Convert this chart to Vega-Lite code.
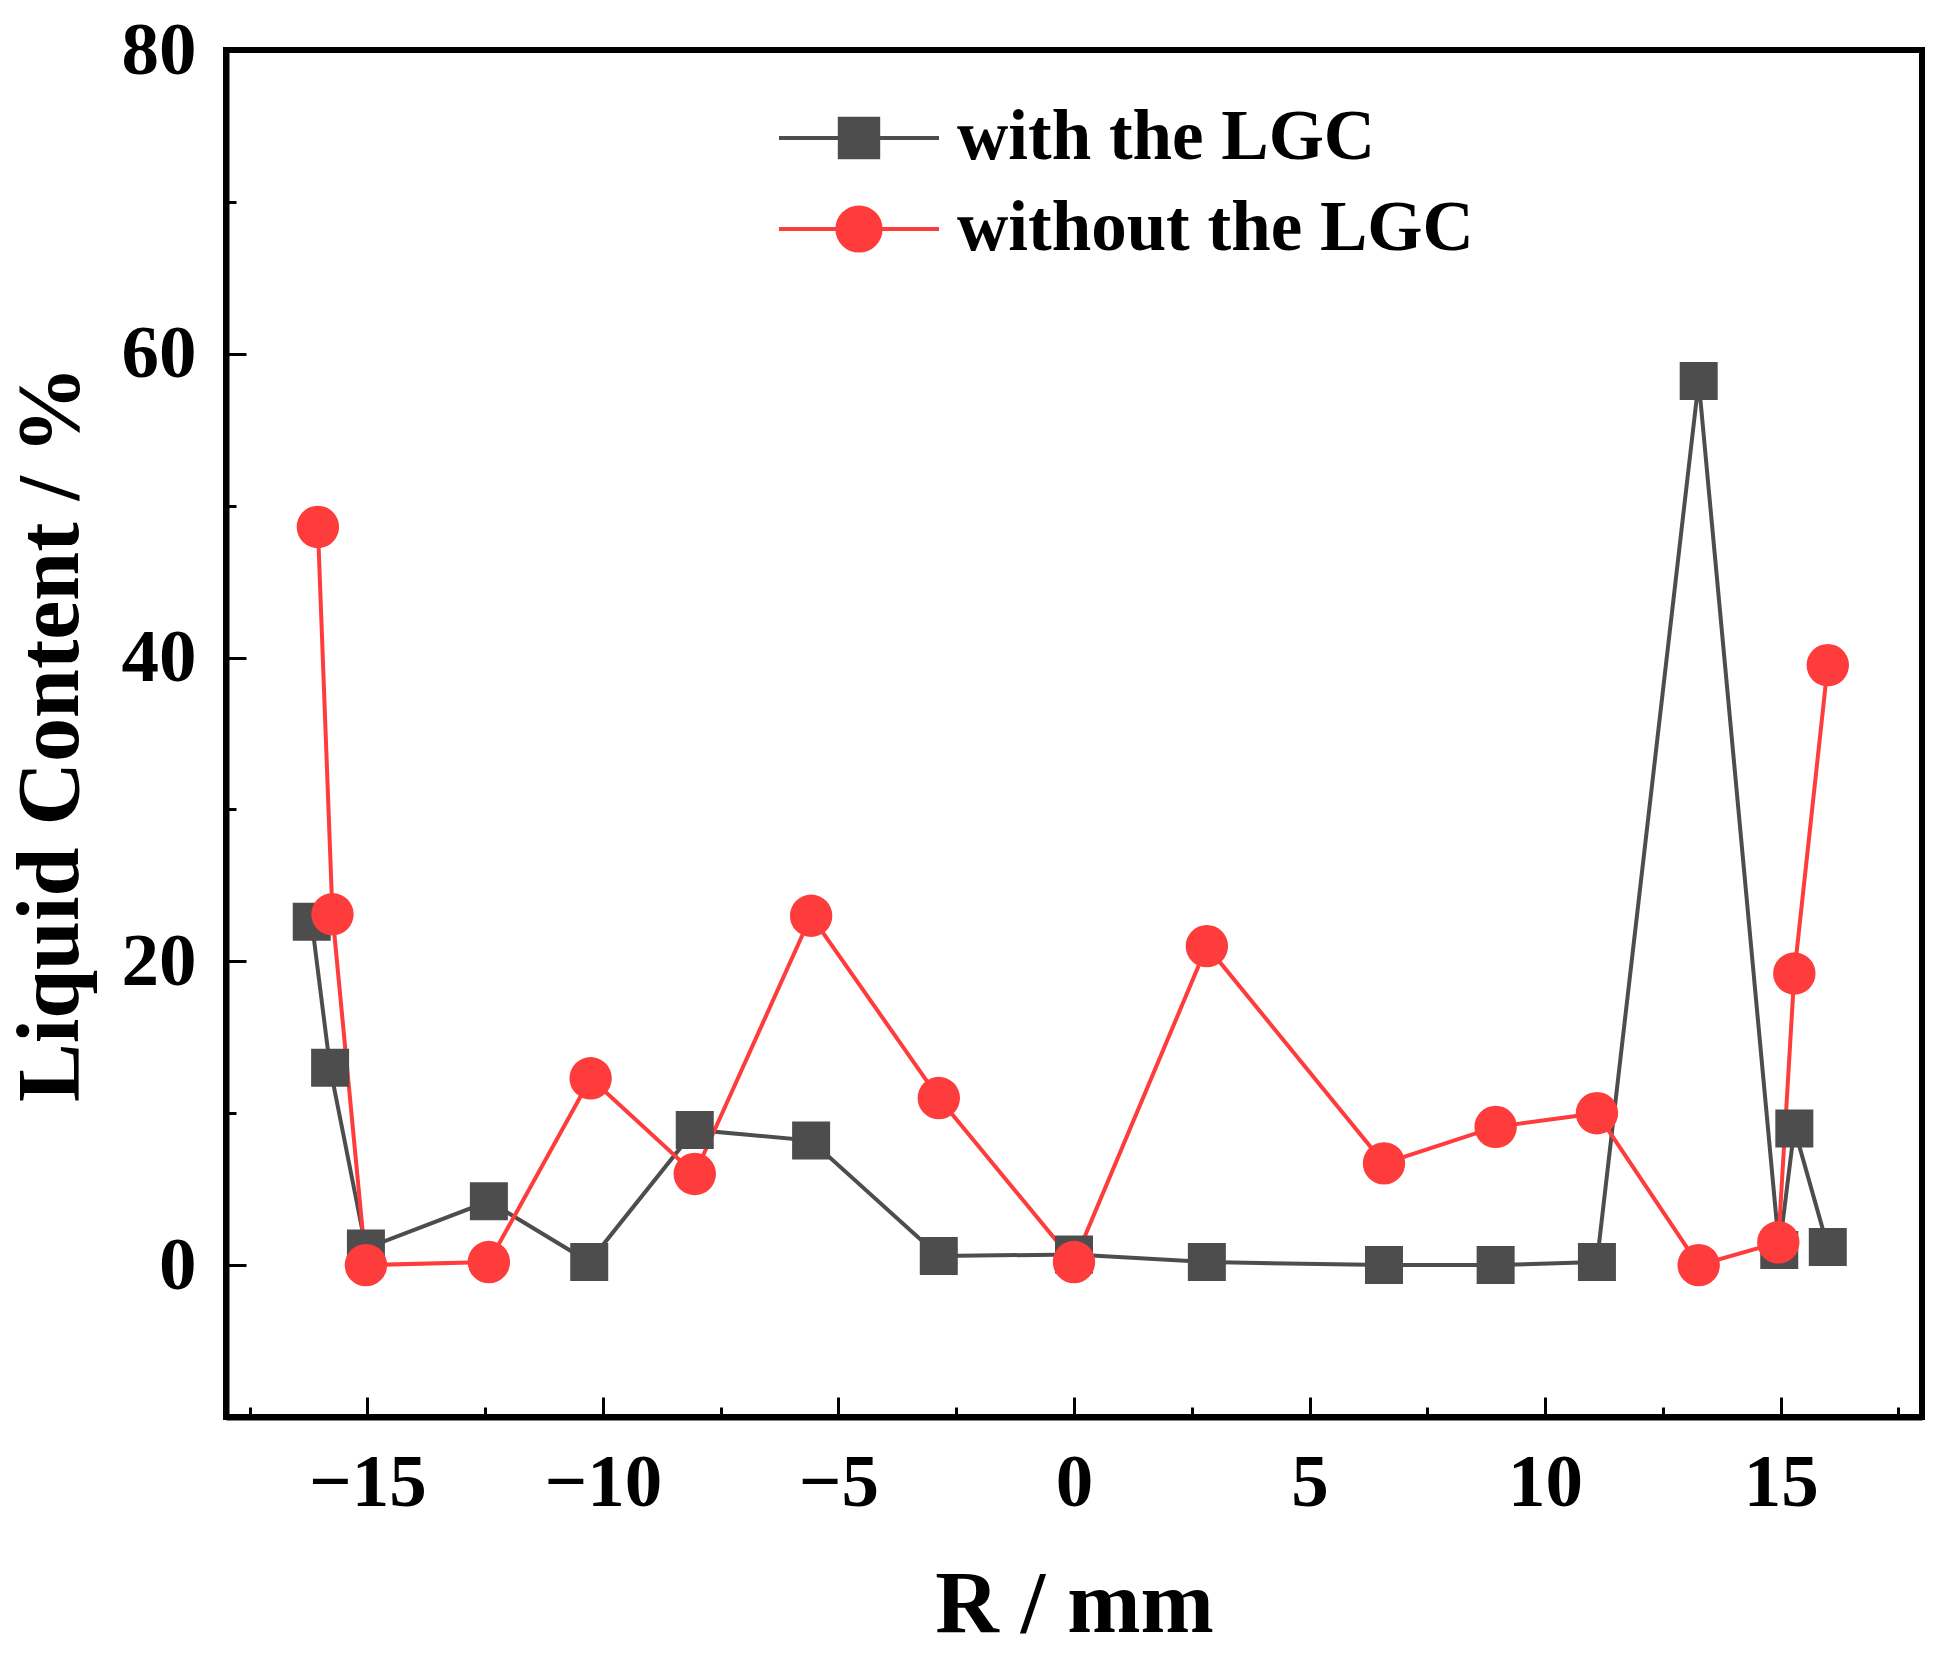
{
  "$schema": "https://vega.github.io/schema/vega-lite/v6.json",
  "width": 1696,
  "height": 1367,
  "autosize": {"type": "none"},
  "padding": {"left": 226, "top": 50, "right": 20, "bottom": 238},
  "background": "white",
  "config": {
    "view": {"stroke": "black", "strokeWidth": 6},
    "font": "Liberation Serif",
    "axis": {
      "grid": false,
      "domainColor": "black",
      "domainWidth": 6,
      "tickColor": "black",
      "tickWidth": 3,
      "labelFont": "Liberation Serif",
      "labelFontWeight": "bold",
      "labelFontSize": 75,
      "labelColor": "black",
      "titleFont": "Liberation Serif",
      "titleFontWeight": "bold",
      "titleFontSize": 88,
      "titleColor": "black"
    }
  },
  "data": {
    "values": [
      {"r": -16.18, "lc": 22.6, "series": "with the LGC"},
      {"r": -15.79, "lc": 13.0, "series": "with the LGC"},
      {"r": -15.03, "lc": 1.1, "series": "with the LGC"},
      {"r": -12.42, "lc": 4.2, "series": "with the LGC"},
      {"r": -10.29, "lc": 0.2, "series": "with the LGC"},
      {"r": -8.05, "lc": 8.9, "series": "with the LGC"},
      {"r": -5.58, "lc": 8.2, "series": "with the LGC"},
      {"r": -2.87, "lc": 0.6, "series": "with the LGC"},
      {"r": 0.0, "lc": 0.7, "series": "with the LGC"},
      {"r": 2.82, "lc": 0.2, "series": "with the LGC"},
      {"r": 6.58, "lc": 0.0, "series": "with the LGC"},
      {"r": 8.95, "lc": 0.0, "series": "with the LGC"},
      {"r": 11.1, "lc": 0.2, "series": "with the LGC"},
      {"r": 13.26, "lc": 58.2, "series": "with the LGC"},
      {"r": 14.97, "lc": 1.0, "series": "with the LGC"},
      {"r": 15.29, "lc": 9.0, "series": "with the LGC"},
      {"r": 16.0, "lc": 1.2, "series": "with the LGC"},
      {"r": -16.05, "lc": 48.6, "series": "without the LGC"},
      {"r": -15.74, "lc": 23.1, "series": "without the LGC"},
      {"r": -15.03, "lc": 0.0, "series": "without the LGC"},
      {"r": -12.42, "lc": 0.2, "series": "without the LGC"},
      {"r": -10.26, "lc": 12.3, "series": "without the LGC"},
      {"r": -8.05, "lc": 6.0, "series": "without the LGC"},
      {"r": -5.58, "lc": 23.0, "series": "without the LGC"},
      {"r": -2.87, "lc": 11.0, "series": "without the LGC"},
      {"r": 0.0, "lc": 0.2, "series": "without the LGC"},
      {"r": 2.82, "lc": 21.0, "series": "without the LGC"},
      {"r": 6.58, "lc": 6.7, "series": "without the LGC"},
      {"r": 8.95, "lc": 9.1, "series": "without the LGC"},
      {"r": 11.1, "lc": 10.0, "series": "without the LGC"},
      {"r": 13.26, "lc": 0.0, "series": "without the LGC"},
      {"r": 14.95, "lc": 1.5, "series": "without the LGC"},
      {"r": 15.29, "lc": 19.2, "series": "without the LGC"},
      {"r": 16.0, "lc": 39.5, "series": "without the LGC"}
    ]
  },
  "resolve": {"axis": {"x": "independent", "y": "independent"}},
  "layer": [
    {
      "mark": {"type": "line", "strokeWidth": 4},
      "encoding": {
        "x": {
          "field": "r",
          "type": "quantitative",
          "scale": {"domain": [-18, 18], "nice": false, "zero": false},
          "axis": {
            "orient": "bottom",
            "values": [-15, -10, -5, 0, 5, 10, 15],
            "tickSize": -20,
            "labelPadding": 49,
            "labelFlush": false,
            "title": "R / mm",
            "titlePadding": 41
          }
        },
        "y": {
          "field": "lc",
          "type": "quantitative",
          "scale": {"domain": [-10, 80], "nice": false, "zero": false},
          "axis": {
            "orient": "left",
            "values": [0, 20, 40, 60, 80],
            "tickSize": -20,
            "labelPadding": 50,
            "labelFlush": false,
            "title": "Liquid Content / %",
            "titlePadding": 26
          }
        },
        "color": {
          "field": "series",
          "type": "nominal",
          "scale": {"domain": ["with the LGC", "without the LGC"], "range": ["#4d4d4d", "#ff3c3c"]},
          "legend": {
            "orient": "none",
            "legendX": 591,
            "legendY": 46,
            "title": null,
            "padding": 0,
            "symbolSize": 6400,
            "symbolStrokeWidth": 4,
            "labelFont": "Liberation Serif",
            "labelFontWeight": "bold",
            "labelFontSize": 71,
            "labelColor": "black",
            "labelOffset": 56,
            "labelLimit": 0,
            "rowPadding": 14,
            "encode": {
              "symbols": {
                "update": {
                  "shape": {"signal": "datum.value === 'with the LGC' ? 'M-2,0H2M-0.48,-0.48H0.48V0.48H-0.48Z' : 'M-2,0H2M-0.54,0A0.54,0.54 0 1,0 0.54,0A0.54,0.54 0 1,0 -0.54,0Z'"},
                  "fill": {"signal": "datum.value === 'with the LGC' ? '#4d4d4d' : '#ff3c3c'"},
                  "stroke": {"signal": "datum.value === 'with the LGC' ? '#4d4d4d' : '#ff3c3c'"},
                  "strokeWidth": {"value": 4},
                  "size": {"value": 6400}
                }
              }
            }
          }
        }
      }
    },
    {
      "transform": [{"filter": "datum.series === 'with the LGC'"}],
      "mark": {"type": "point", "filled": true, "opacity": 1, "shape": "square", "size": 1444, "color": "#4d4d4d"},
      "encoding": {
        "x": {
          "field": "r",
          "type": "quantitative",
          "axis": {
            "orient": "bottom",
            "values": [-17.5, -12.5, -7.5, -2.5, 2.5, 7.5, 12.5, 17.5],
            "tickSize": -10,
            "labels": false,
            "domain": false,
            "title": null
          }
        },
        "y": {
          "field": "lc",
          "type": "quantitative",
          "axis": {
            "orient": "left",
            "values": [10, 30, 50, 70],
            "tickSize": -10,
            "labels": false,
            "domain": false,
            "title": null
          }
        }
      }
    },
    {
      "transform": [{"filter": "datum.series === 'without the LGC'"}],
      "mark": {"type": "point", "filled": true, "opacity": 1, "shape": "circle", "size": 1800, "color": "#ff3c3c"},
      "encoding": {
        "x": {"field": "r", "type": "quantitative", "axis": null},
        "y": {"field": "lc", "type": "quantitative", "axis": null}
      }
    }
  ]
}
